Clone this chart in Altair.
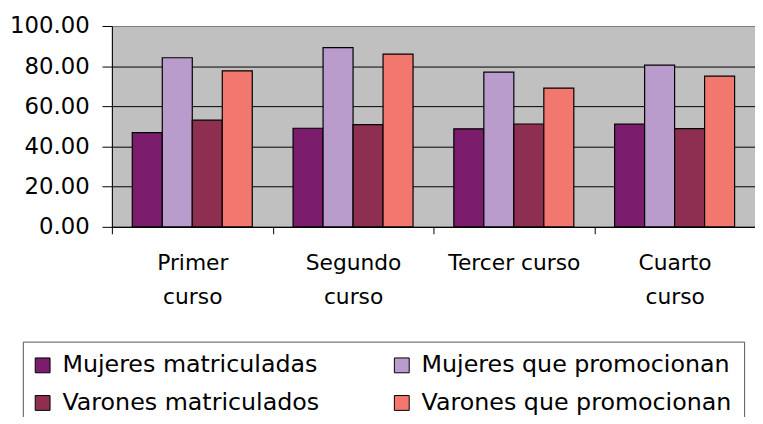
import altair as alt
import pandas as pd

cursos = ["Primer curso", "Segundo curso", "Tercer curso", "Cuarto curso"]
series = ["Mujeres matriculadas", "Mujeres que promocionan",
          "Varones matriculados", "Varones que promocionan"]
mujeres_matriculadas = [46.9, 49.1, 48.8, 51.1]
mujeres_promocionan = [84.2, 89.2, 77.0, 80.5]
varones_matriculados = [53.1, 50.9, 51.2, 48.9]
varones_promocionan = [77.7, 86.0, 69.1, 75.0]
colores = ["#7b1c6c", "#b99ccb", "#8e2f52", "#f2786f"]
y_ticks = [0, 20, 40, 60, 80, 100]

# legend fills column by column: order so rows read MM | MP, VM | VP
legend_order = [series[0], series[2], series[1], series[3]]
legend_colors = [colores[0], colores[2], colores[1], colores[3]]

rows = []
for s, vals in zip(series, [mujeres_matriculadas, mujeres_promocionan,
                            varones_matriculados, varones_promocionan]):
    for c, v in zip(cursos, vals):
        rows.append({"curso": c, "serie": s, "valor": v})
df = pd.DataFrame(rows)

FONT = "DejaVu Sans"

chart = alt.Chart(df).mark_bar(stroke="black", strokeWidth=1.2).encode(
    x=alt.X(
        "curso:N", sort=cursos, title=None,
        scale=alt.Scale(paddingInner=0, paddingOuter=0),
        axis=alt.Axis(
            labelAngle=0, tickBand="extent", tickSize=7, tickColor="black",
            domainColor="black", labelFont=FONT, labelFontSize=22,
            labelColor="black", labelPadding=19, labelLineHeight=34,
            labelExpr="datum.label == 'Tercer curso' ? datum.label : split(datum.label, ' ')",
            grid=False,
        ),
    ),
    xOffset=alt.XOffset("serie:N", sort=series,
                        scale=alt.Scale(paddingInner=0, paddingOuter=0.68)),
    y=alt.Y(
        "valor:Q", title=None,
        scale=alt.Scale(domain=[0, 100], nice=False),
        axis=alt.Axis(
            values=y_ticks, format=".2f", tickSize=10, tickColor="black",
            domainColor="black", labelFont=FONT, labelFontSize=23,
            labelColor="black", labelPadding=13, grid=True,
            gridColor=alt.condition("datum.value == 100", alt.value("#808080"), alt.value("black")),
            gridWidth=1,
        ),
    ),
    color=alt.Color(
        "serie:N", sort=legend_order,
        scale=alt.Scale(domain=legend_order, range=legend_colors),
        legend=alt.Legend(
            title=None, orient="none", legendX=-90, legendY=319,
            columns=2, columnPadding=73, rowPadding=14,
            symbolType="square", symbolSize=225, symbolStrokeColor="black",
            symbolStrokeWidth=1, symbolOffset=-4, labelFont=FONT, labelFontSize=24,
            labelColor="black", labelOffset=8, labelLimit=500,
            strokeColor="#555555", fillColor="white", padding=12,
        ),
    ),
).properties(
    width=650, height=203, autosize="none",
    padding={"left": 105, "top": 16, "right": 0, "bottom": 190},
).configure_view(fill="#c0c0c0", stroke="#808080", strokeWidth=1)

chart.save("out.html", embed_options={"renderer": "svg", "actions": False})
